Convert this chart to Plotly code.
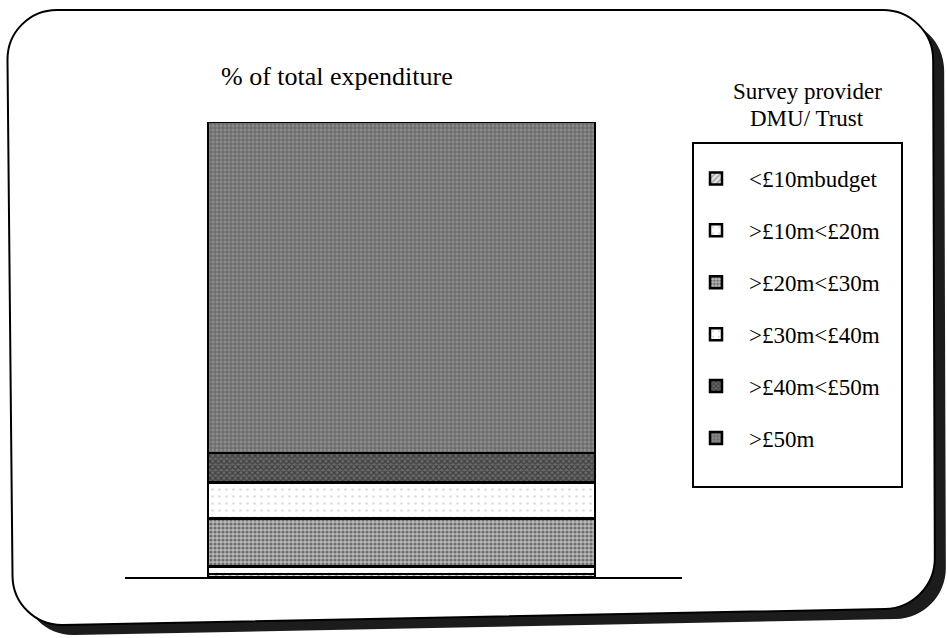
import plotly.graph_objects as go

# Share of total expenditure by provider budget band (stacked, bottom to top)
budget_bands = ["<£10mbudget", ">£10m<£20m", ">£20m<£30m", ">£30m<£40m", ">£40m<£50m", ">£50m"]
share_pct = [0.7, 1.6, 10.6, 7.9, 6.4, 72.8]
group_label = ["DMU/ Trust"]

# Fill textures for each band
patterns = [
    dict(shape="/", fgcolor="#444444", bgcolor="#e4e4e4", size=5, solidity=0.3),
    dict(shape=".", fgcolor="#aaaaaa", bgcolor="#ffffff", size=8, solidity=0.1),
    dict(shape=".", fgcolor="#222222", bgcolor="#b8b8b8", size=4, solidity=0.5),
    dict(shape=".", fgcolor="#bbbbbb", bgcolor="#ffffff", size=7, solidity=0.12),
    dict(shape="x", fgcolor="#111111", bgcolor="#6a6a6a", size=4, solidity=0.5),
    dict(shape="+", fgcolor="#2a2a2a", bgcolor="#8c8c8c", size=4, solidity=0.35),
]

W, H = 947, 638
L, R, T, B = 125, 265, 122, 61
PW, PH = W - L - R, H - T - B
SERIF = "Liberation Serif, Times New Roman, serif"


def px(x):
    return (x - L) / PW


def py(y):
    return (H - B - y) / PH


def rounded_path(corners, r, dx=0, dy=0):
    """Closed path through the corners with rounded joins (pixel input)."""
    k = 0.5523
    n = len(corners)
    pts = [(cx + dx, cy + dy) for cx, cy in corners]
    segs = []
    for i in range(n):
        cx, cy = pts[i]
        ax, ay = pts[i - 1]
        bx, by = pts[(i + 1) % n]
        la = ((ax - cx) ** 2 + (ay - cy) ** 2) ** 0.5
        lb = ((bx - cx) ** 2 + (by - cy) ** 2) ** 0.5
        s = (cx + r * (ax - cx) / la, cy + r * (ay - cy) / la)
        e = (cx + r * (bx - cx) / lb, cy + r * (by - cy) / lb)
        c1 = (s[0] + k * (cx - s[0]), s[1] + k * (cy - s[1]))
        c2 = (e[0] + k * (cx - e[0]), e[1] + k * (cy - e[1]))
        segs.append((s, c1, c2, e))
    d = "M{:.5f},{:.5f}".format(px(segs[0][0][0]), py(segs[0][0][1]))
    for s, c1, c2, e in segs:
        d += " L{:.5f},{:.5f}".format(px(s[0]), py(s[1]))
        d += " C{:.5f},{:.5f} {:.5f},{:.5f} {:.5f},{:.5f}".format(
            px(c1[0]), py(c1[1]), px(c2[0]), py(c2[1]), px(e[0]), py(e[1]))
    return d + " Z"


frame = [(7, 10), (933, 10), (935, 608), (13, 626)]

fig = go.Figure()
for band, val, pat in zip(budget_bands, share_pct, patterns):
    fig.add_trace(go.Bar(
        x=group_label, y=[val], name=band, legendgroup=band,
        width=1,
        marker=dict(color=pat["bgcolor"], pattern=pat,
                    line=dict(color="#000000", width=2.5)),
        hoverinfo="name+y",
    ))

shapes = [
    dict(type="path", xref="paper", yref="paper", layer="below",
         path=rounded_path(frame, 50, 11, 10), fillcolor="#1c1c1c",
         line=dict(width=0)),
    dict(type="path", xref="paper", yref="paper", layer="below",
         path=rounded_path(frame, 50), fillcolor="#ffffff",
         line=dict(color="#000000", width=2)),
    dict(type="rect", xref="paper", yref="paper",
         x0=px(693), x1=px(902), y0=py(143), y1=py(487),
         line=dict(color="#000000", width=2), fillcolor="rgba(0,0,0,0)"),
]

annotations = [
    dict(text="% of total expenditure", xref="paper", yref="paper",
         x=px(219), y=py(77), xanchor="left", yanchor="middle",
         showarrow=False, font=dict(family=SERIF, size=26, color="#000000")),
    dict(text="Survey provider", xref="paper", yref="paper",
         x=px(807), y=py(91), xanchor="center", yanchor="middle",
         showarrow=False, font=dict(family=SERIF, size=23, color="#000000")),
    dict(text="DMU/ Trust", xref="paper", yref="paper",
         x=px(807), y=py(118), xanchor="center", yanchor="middle",
         showarrow=False, font=dict(family=SERIF, size=23, color="#000000")),
]

fig.update_layout(
    width=W, height=H,
    margin=dict(l=L, r=R, t=T, b=B, pad=0),
    barmode="stack",
    paper_bgcolor="#ffffff",
    plot_bgcolor="rgba(0,0,0,0)",
    font=dict(family=SERIF, color="#000000"),
    showlegend=True,
    legend=dict(
        x=px(683), y=py(157), xanchor="left", yanchor="top",
        traceorder="grouped", tracegroupgap=19,
        itemwidth=56, borderwidth=0, bgcolor="rgba(0,0,0,0)",
        font=dict(family=SERIF, size=23, color="#000000"),
    ),
    xaxis=dict(range=[-0.7145, 0.7248], showticklabels=False, ticks="",
               showgrid=False, zeroline=False, showline=True,
               linecolor="#000000", linewidth=2, fixedrange=True),
    yaxis=dict(range=[0, 100], visible=False, showgrid=False,
               zeroline=False, fixedrange=True),
    shapes=shapes,
    annotations=annotations,
)

fig.write_html("out.html")
